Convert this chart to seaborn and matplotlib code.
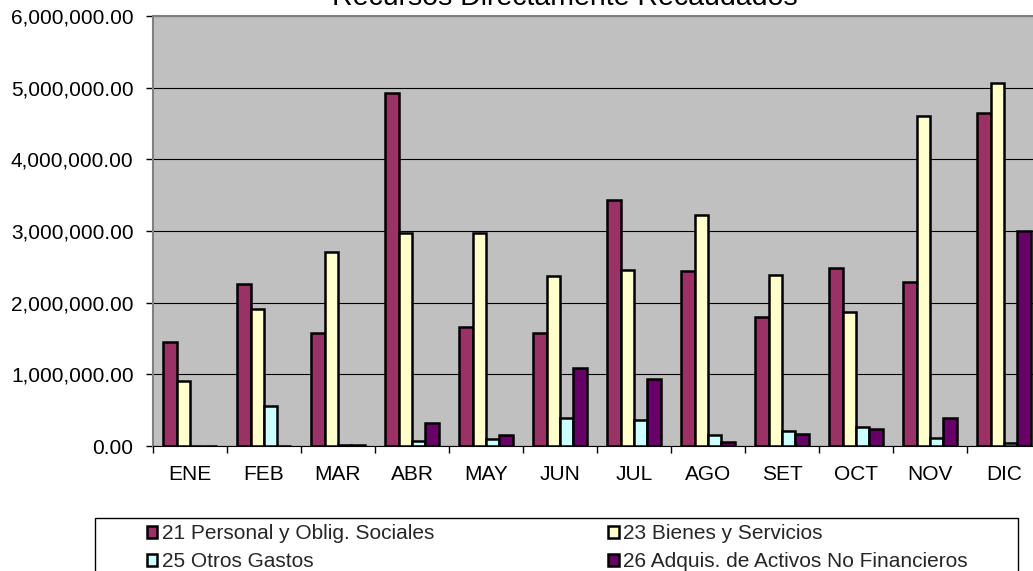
import matplotlib
matplotlib.use("Agg")
import matplotlib.pyplot as plt
import matplotlib.patches as mpatches
import matplotlib.ticker as mticker
import pandas as pd
import seaborn as sns

meses = ["ENE", "FEB", "MAR", "ABR", "MAY", "JUN", "JUL", "AGO", "SET", "OCT", "NOV", "DIC"]
partidas = ["21 Personal y Oblig. Sociales", "23 Bienes y Servicios",
            "25 Otros Gastos", "26 Adquis. de Activos No Financieros"]
personal = [1455000, 2256000, 1577000, 4925000, 1656000, 1572000,
            3426000, 2443000, 1805000, 2490000, 2294000, 4642000]
bienes = [907000, 1907000, 2705000, 2970000, 2970000, 2378000,
          2457000, 3226000, 2385000, 1874000, 4609000, 5069000]
otros = [0, 558000, 10000, 74000, 93000, 395000,
         363000, 149000, 214000, 270000, 112000, 37000]
activos = [0, 0, 10000, 325000, 153000, 1093000,
           930000, 56000, 163000, 237000, 386000, 3004000]
colores = ["#993366", "#FFFFCC", "#CCFFFF", "#660066"]

df = pd.DataFrame({
    "mes": meses * 4,
    "partida": [p for p in partidas for _ in meses],
    "monto": personal + bienes + otros + activos,
})

sns.set_style("white")
plt.rcParams["font.family"] = ["Liberation Sans", "DejaVu Sans"]

fig = plt.figure(figsize=(10.33, 5.71), dpi=100)
ax = fig.add_axes([153 / 1033, 125 / 571, 888 / 1033, 430 / 571])
ax.set_facecolor("#C0C0C0")
ax.set_axisbelow(True)

sns.barplot(data=df, x="mes", y="monto", hue="partida", order=meses,
            hue_order=partidas, palette=colores, saturation=1,
            width=4 / 5.5, edgecolor="black", linewidth=1.8, ax=ax)

ax.set_xlim(-0.5, 11.5)
ax.set_ylim(0, 6000000)
ax.set_yticks(range(0, 6000001, 1000000))
ax.yaxis.set_major_formatter(mticker.StrMethodFormatter("{x:,.2f}"))
ax.grid(axis="y", color="black", linewidth=0.8)
ax.set_xlabel("")
ax.set_ylabel("")

ax.set_xticks([i - 0.5 for i in range(13)], minor=True)
ax.tick_params(axis="x", which="major", length=0, pad=14, labelsize=15, colors="black")
ax.tick_params(axis="x", which="minor", length=5, width=1, color="black", direction="out", bottom=True)
ax.tick_params(axis="y", length=5, width=1, color="black", direction="out", left=True,
               pad=9, labelsize=15, labelcolor="black")

for side in ["left", "top"]:
    ax.spines[side].set_color("#808080")
    ax.spines[side].set_linewidth(1.5)
ax.spines["bottom"].set_color("black")
ax.spines["right"].set_visible(False)

fig.text(565 / 1033, 1 - 5 / 571, "Recursos Directamente Recaudados",
         ha="center", va="baseline", fontsize=20.5, color="black")

handles, labels = ax.get_legend_handles_labels()
ax.get_legend().remove()
# legend fills by column, so reorder to read row by row like the original
orden = [0, 2, 1, 3]
fig.legend([handles[i] for i in orden], [labels[i] for i in orden], ncol=2,
           loc="upper left", bbox_to_anchor=(147 / 1033, 1 - 524 / 571),
           frameon=False, fontsize=15, borderpad=0, borderaxespad=0,
           handlelength=0.5, handleheight=0.5, handletextpad=0.2,
           columnspacing=8.37, labelspacing=0.45)
fig.patches.append(mpatches.Rectangle((95 / 1033, -0.1), (1018 - 95) / 1033,
                                      (571 - 518) / 571 + 0.1,
                                      transform=fig.transFigure, fill=False,
                                      edgecolor="black", linewidth=1))

fig.savefig("out.png", dpi=100)
